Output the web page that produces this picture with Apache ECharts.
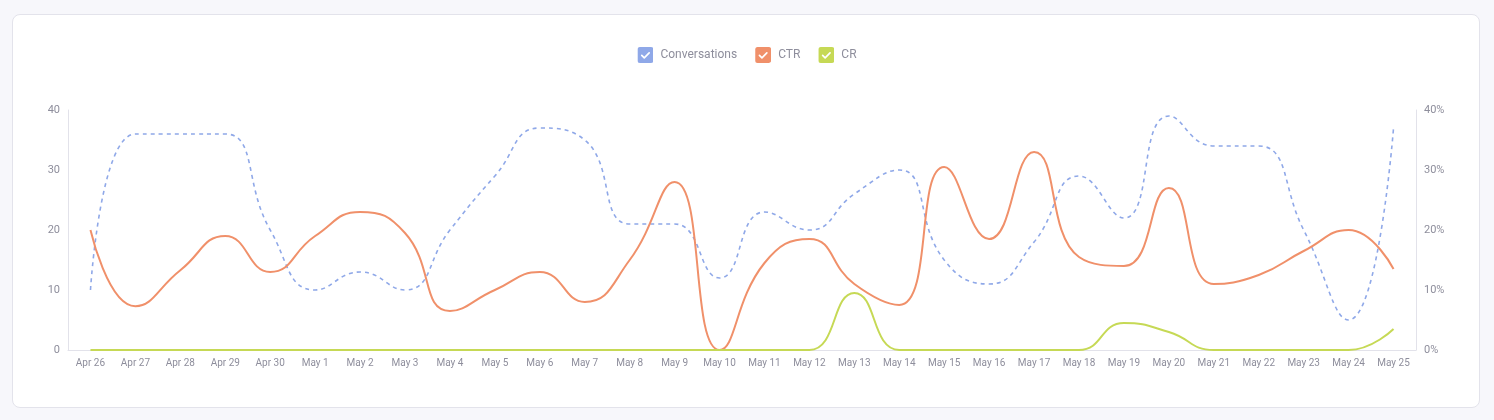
<!DOCTYPE html>
<html>
<head>
<meta charset="utf-8">
<script src="https://cdn.jsdelivr.net/npm/echarts@6/dist/echarts.min.js"></script>
<style>
	html, body { margin: 0; padding: 0; background: #f7f7fb; }
	.card {
		position: absolute; left: 12px; top: 14px; width: 1466px; height: 392px;
		background: #fff; border: 1px solid #e3e3eb; border-radius: 8px;
	}
	#main { position: absolute; left: 0; top: 0; width: 1494px; height: 420px; }
</style>
</head>
<body>
<div class="card"></div>
<div id="main"></div>
<script>
var days = ['Apr 26', 'Apr 27', 'Apr 28', 'Apr 29', 'Apr 30', 'May 1', 'May 2', 'May 3', 'May 4', 'May 5',
	'May 6', 'May 7', 'May 8', 'May 9', 'May 10', 'May 11', 'May 12', 'May 13', 'May 14', 'May 15',
	'May 16', 'May 17', 'May 18', 'May 19', 'May 20', 'May 21', 'May 22', 'May 23', 'May 24', 'May 25']
var conversations = [10, 36, 36, 36, 20, 10, 13, 10, 20, 29, 37, 35, 21, 21, 12, 23, 20, 26, 30, 15,
	11, 18, 29, 22, 39, 34, 34, 20, 5, 37]
var ctr = [20, 7.3, 13.3, 19, 13, 19, 23, 19.5, 6.5, 10, 13, 8, 15, 28, 0, 14.5, 18.5, 11, 7.5, 30.5,
	18.5, 33, 15.5, 14, 27, 11, 12.5, 16.5, 20, 13.5]
var cr = [0, 0, 0, 0, 0, 0, 0, 0, 0, 0, 0, 0, 0, 0, 0, 0, 0, 9.5, 0, 0,
	0, 0, 0, 4.5, 3, 0, 0, 0, 0, 3.5]
var leftTicks = { min: 0, max: 40, interval: 10 }

var colors = { Conversations: '#8fa8e8', CTR: '#f0906a', CR: '#c6d955' }
var labelColor = '#8e8e9c'
var lineColor = '#e2e2ea'

// checkbox icon as a small svg
function checkIcon(color) {
	var svg = "<svg xmlns='http://www.w3.org/2000/svg' width='16' height='16' viewBox='0 0 16 16'>" +
		"<rect width='16' height='16' rx='2.5' fill='" + color + "'/>" +
		"<path d='M4.3 8.3l2.5 2.5 4.9-4.9' fill='none' stroke='#fff' stroke-width='1.7' stroke-linecap='round' stroke-linejoin='round'/></svg>"
	return 'image://data:image/svg+xml;charset=utf-8,' + encodeURIComponent(svg)
}

var myChart = echarts.init(document.getElementById('main'))
var option = {
	legend: {
		top: 42,
		left: 'center',
		itemWidth: 16,
		itemHeight: 16,
		itemGap: 18,
		textStyle: { color: labelColor, fontSize: 12, fontFamily: 'Roboto', padding: [0, 0, 0, 2] },
		data: ['Conversations', 'CTR', 'CR'].map(function (n) {
			return { name: n, icon: checkIcon(colors[n]) }
		})
	},
	grid: { left: 68, right: 78, top: 110, bottom: 70 },
	xAxis: {
		type: 'category',
		data: days,
		boundaryGap: true,
		axisLine: { lineStyle: { color: lineColor } },
		axisTick: { show: false },
		axisLabel: { color: labelColor, fontSize: 10, fontFamily: 'Roboto', margin: 8, interval: 0 }
	},
	yAxis: [{
		type: 'value',
		min: leftTicks.min,
		max: leftTicks.max,
		interval: leftTicks.interval,
		splitLine: { show: false },
		axisLine: { show: true, lineStyle: { color: lineColor } },
		axisLabel: { color: labelColor, fontSize: 11, fontFamily: 'Roboto', margin: 8 }
	}, {
		type: 'value',
		min: leftTicks.min,
		max: leftTicks.max,
		interval: leftTicks.interval,
		splitLine: { show: false },
		axisLine: { show: true, lineStyle: { color: lineColor } },
		axisLabel: { color: labelColor, fontSize: 11, fontFamily: 'Roboto', margin: 8, formatter: '{value}%' }
	}],
	series: [{
		name: 'Conversations',
		type: 'line',
		data: conversations,
		smooth: true,
		showSymbol: false,
		color: colors.Conversations,
		lineStyle: { width: 1.6, type: [4, 4] }
	}, {
		name: 'CTR',
		type: 'line',
		yAxisIndex: 1,
		data: ctr,
		smooth: true,
		showSymbol: false,
		color: colors.CTR,
		lineStyle: { width: 2 }
	}, {
		name: 'CR',
		type: 'line',
		yAxisIndex: 1,
		data: cr,
		smooth: true,
		showSymbol: false,
		color: colors.CR,
		lineStyle: { width: 2 }
	}]
}
myChart.setOption(option)
</script>
</body>
</html>
